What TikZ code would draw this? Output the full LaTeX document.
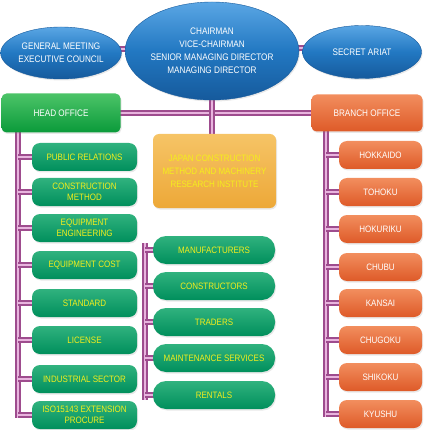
\documentclass[tikz,border=0pt]{standalone}
\usepackage{fontspec}
\setmainfont{Liberation Sans}[FakeStretch=0.86]
\usetikzlibrary{shapes.geometric,backgrounds,shadows}
\definecolor{blueT}{HTML}{5AA6E4}
\definecolor{blueM}{HTML}{2278C2}
\definecolor{blueB}{HTML}{165A9C}
\definecolor{hgT}{HTML}{4CC468}
\definecolor{hgB}{HTML}{0A9A3A}
\definecolor{igT}{HTML}{30B27E}
\definecolor{igB}{HTML}{008F5C}
\definecolor{orT}{HTML}{F28E5E}
\definecolor{orB}{HTML}{DE5A28}
\definecolor{jcT}{HTML}{F6C466}
\definecolor{jcB}{HTML}{EDA838}
\definecolor{ytext}{HTML}{F4EE1C}
\definecolor{tubeD}{HTML}{9E4C8E}
\definecolor{tubeL}{HTML}{E8B4DE}
\tikzset{
  shd/.style={drop shadow={opacity=0.18,shadow xshift=1pt,shadow yshift=-1.5pt}},
  tube/.style={preaction={draw=tubeD,line width=6.5pt},draw=tubeL,line width=2.2pt},
  oval/.style={ellipse,inner sep=0pt,top color=blueT,bottom color=blueB,middle color=blueM,
    draw=blueB,line width=0.4pt,text=white,align=center,font=\fontsize{9.5}{13}\selectfont,shd},
  headbox/.style={rectangle,rounded corners=5pt,inner sep=0pt,top color=hgT,bottom color=hgB,
    text=white,font=\fontsize{9.5}{11}\selectfont,minimum width=119pt,minimum height=39pt,shd},
  branchbox/.style={rectangle,rounded corners=5pt,inner sep=0pt,top color=orT,bottom color=orB,
    text=white,font=\fontsize{9.5}{11}\selectfont,minimum width=111pt,minimum height=37pt,shd},
  gitem/.style={rectangle,rounded corners=8pt,inner sep=0pt,top color=igT,bottom color=igB,
    text=ytext,align=center,font=\fontsize{9.3}{11.5}\selectfont,minimum width=105pt,minimum height=28pt,shd},
  mitem/.style={rectangle,rounded corners=13pt,inner sep=0pt,top color=igT,bottom color=igB,
    text=ytext,align=center,font=\fontsize{9.3}{11.5}\selectfont,minimum width=122pt,minimum height=28pt,shd},
  ritem/.style={rectangle,rounded corners=8pt,inner sep=0pt,top color=orT,bottom color=orB,
    text=white,align=center,font=\fontsize{9.3}{11.5}\selectfont,minimum width=83pt,minimum height=28pt,shd},
  jcbox/.style={rectangle,rounded corners=6pt,inner sep=0pt,top color=jcT,bottom color=jcB,
    text=ytext,align=center,font=\fontsize{9.3}{13}\selectfont,minimum width=123pt,minimum height=74pt,shd},
}
\begin{document}
\begin{tikzpicture}[x=1pt,y=-1pt]
\useasboundingbox (0,0) rectangle (424,430);
% top ellipses
\node[oval,minimum width=118pt,minimum height=52pt] (gm) at (61,53) {GENERAL MEETING\\EXECUTIVE COUNCIL};
\node[oval,minimum width=165pt,minimum height=98pt] (chair) at (212,51) {CHAIRMAN\\VICE-CHAIRMAN\\SENIOR MANAGING DIRECTOR\\MANAGING DIRECTOR};
\node[oval,minimum width=119pt,minimum height=53pt] (sec) at (362,52) {SECRET ARIAT};
% offices
\node[headbox] (head) at (61,113) {HEAD OFFICE};
\node[branchbox] (branch) at (367,113) {BRANCH OFFICE};
\node[jcbox] (jcma) at (214.5,171) {JAPAN CONSTRUCTION\\METHOD AND MACHINERY\\RESEARCH INSTITUTE};
% left items
\node[gitem] (pr) at (84.5,157) {PUBLIC RELATIONS};
\node[gitem] (cm) at (84.5,192) {CONSTRUCTION\\METHOD};
\node[gitem] (ee) at (84.5,228) {EQUIPMENT\\ENGINEERING};
\node[gitem] (ec) at (84.5,265) {EQUIPMENT COST};
\node[gitem] (st) at (84.5,303) {STANDARD};
\node[gitem] (li) at (84.5,340) {LICENSE};
\node[gitem] (is) at (84.5,379) {INDUSTRIAL SECTOR};
\node[gitem] (iso) at (84.5,415) {ISO15143 EXTENSION\\PROCURE};
% middle items
\node[mitem] (ma) at (214,250) {MANUFACTURERS};
\node[mitem] (co) at (214,286) {CONSTRUCTORS};
\node[mitem] (tr) at (214,322) {TRADERS};
\node[mitem] (ms) at (214,358) {MAINTENANCE SERVICES};
\node[mitem] (re) at (214,395) {RENTALS};
% right items
\node[ritem] (hk) at (380.5,155) {HOKKAIDO};
\node[ritem] (th) at (380.5,192) {TOHOKU};
\node[ritem] (hr) at (380.5,229) {HOKURIKU};
\node[ritem] (cb) at (380.5,267) {CHUBU};
\node[ritem] (ks) at (380.5,303) {KANSAI};
\node[ritem] (cg) at (380.5,340) {CHUGOKU};
\node[ritem] (sk) at (380.5,377) {SHIKOKU};
\node[ritem] (ky) at (380.5,414) {KYUSHU};
% bar coordinates
\coordinate (lbar) at (18,133);
\coordinate (lbarend) at (18,418);
\coordinate (mbar) at (145,243);
\coordinate (mbarend) at (145,400);
\coordinate (rbar) at (326,131);
\coordinate (rbarend) at (326,417);
\begin{scope}[on background layer]
\draw[tube] ([yshift=4pt]gm.center) -- ([yshift=4pt]gm.center -| chair.center);
\draw[tube] ([yshift=4pt]sec.center) -- ([yshift=4pt]sec.center -| chair.center);
\draw[tube] (head.center) -- (branch.center);
\draw[tube] (chair.center) -- (chair.center |- jcma.north);
\draw[tube] (lbar |- head.center) -- (lbarend);
\draw[tube] (mbar) -- (mbarend);
\draw[tube] (rbar |- branch.center) -- (rbarend);
\foreach \n in {pr,cm,ee,ec,st,li,is,iso} \draw[tube] (lbar |- \n.center) -- (\n.center);
\foreach \n in {ma,co,tr,ms,re} \draw[tube] (mbar |- \n.center) -- (\n.center);
\foreach \n in {hk,th,hr,cb,ks,cg,sk,ky} \draw[tube] (rbar |- \n.center) -- (\n.center);
\end{scope}
\end{tikzpicture}
\end{document}
